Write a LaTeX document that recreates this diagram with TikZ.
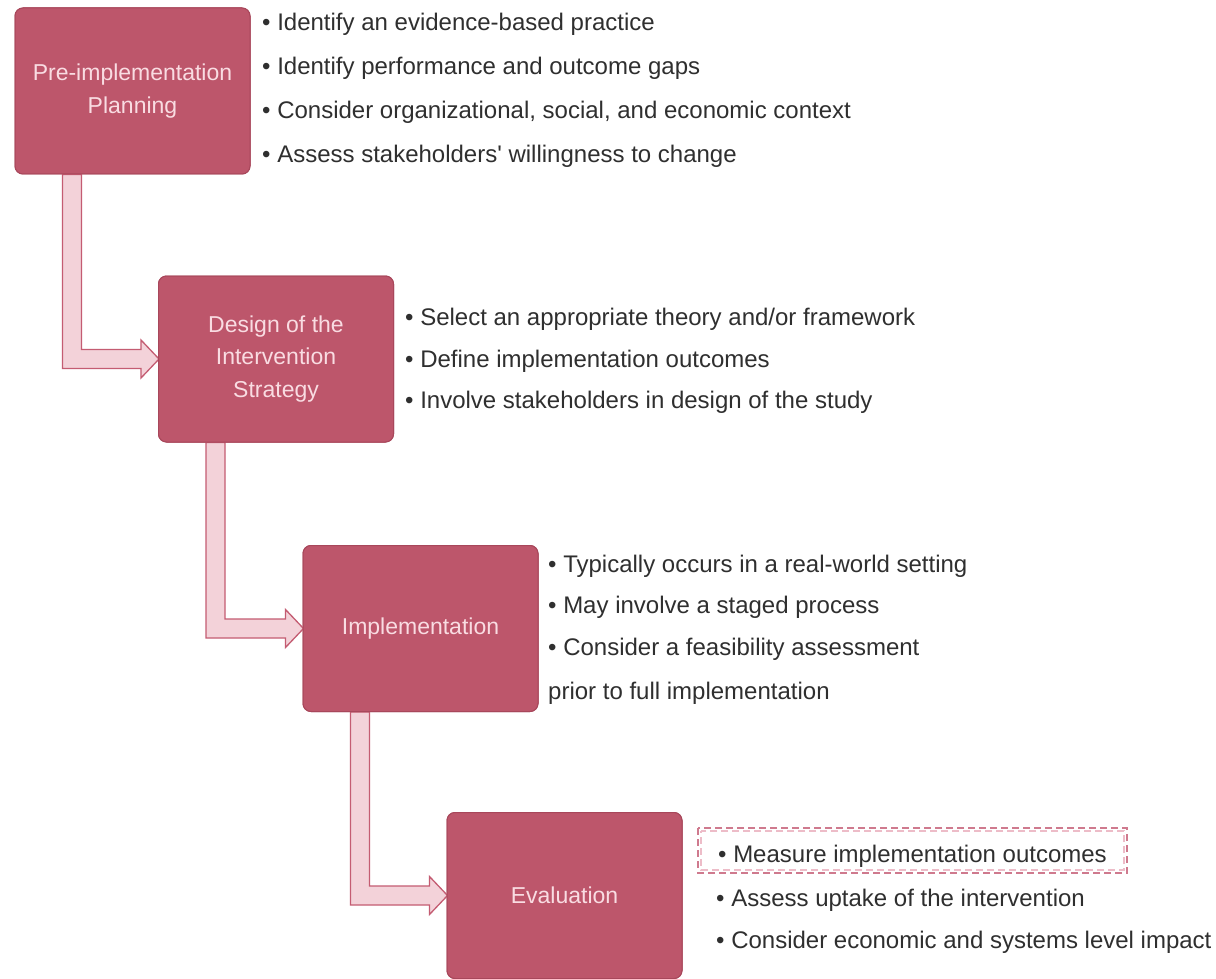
\documentclass[tikz,border=0pt]{standalone}
\usepackage{fontspec}
\setmainfont{Liberation Sans}
\usetikzlibrary{calc}

\definecolor{boxfill}{HTML}{BD566B}
\definecolor{boxline}{HTML}{A8475B}
\definecolor{boxtext}{HTML}{F9DCE2}
\definecolor{arrowfill}{HTML}{F3D2D9}
\definecolor{arrowline}{HTML}{C45C72}
\definecolor{bodytext}{HTML}{2F2F2F}
\definecolor{dashdark}{HTML}{CF7A8E}
\definecolor{dashlight}{HTML}{EDBCC8}

\tikzset{
  stagebox/.style={draw=boxline, line width=1pt, fill=boxfill, rounded corners=8pt,
    minimum width=235pt, minimum height=166pt, inner sep=0pt, align=center,
    text=boxtext, font=\fontsize{23}{32.5}\selectfont},
  itemtext/.style={anchor=base west, inner sep=0pt, text=bodytext,
    font=\fontsize{24}{29}\selectfont},
  arrowbody/.style={draw=arrowline, line width=1.3pt, fill=arrowfill, line join=miter},
}

% L-shaped block arrow from the bottom of one stage to the left side of the next
\newcommand\stagearrow[2]{%
  \draw[arrowbody] let \p1=(#1.south west), \p2=(#2.west) in
    ({\x1+48pt},\y1) -- ({\x1+48pt},{\y2-9.5pt}) -- ({\x2-17pt},{\y2-9.5pt})
    -- ({\x2-17pt},{\y2-19pt}) -- ({\x2+1pt},\y2) -- ({\x2-17pt},{\y2+19pt})
    -- ({\x2-17pt},{\y2+9.5pt}) -- ({\x1+67pt},{\y2+9.5pt}) -- ({\x1+67pt},\y1) -- cycle;}

\begin{document}
\begin{tikzpicture}[x=1pt,y=-1pt]
  \useasboundingbox[fill=white] (0,0) rectangle (1216,979);

  % stage boxes (placed first so the arrows can refer to them)
  \path
    node[stagebox] (plan) at (132.5,91) {Pre-implementation\\Planning}
    node[stagebox] (design) at (276,359) {Design of the\\Intervention\\Strategy}
    node[stagebox] (impl) at (420.5,628.5) {Implementation}
    node[stagebox] (eval) at (564.5,895.5) {Evaluation};

  % connectors between the stages
  \stagearrow{plan}{design}
  \stagearrow{design}{impl}
  \stagearrow{impl}{eval}

  % redraw the boxes on top of the arrow ends
  \node[stagebox] at (plan) {Pre-implementation\\Planning};
  \node[stagebox] at (design) {Design of the\\Intervention\\Strategy};
  \node[stagebox] at (impl) {Implementation};
  \node[stagebox] at (eval) {Evaluation};

  % Pre-implementation planning items
  \node[itemtext] (p1) at (262,31)  {• Identify an evidence-based practice};
  \node[itemtext] (p2) at (262,75)  {• Identify performance and outcome gaps};
  \node[itemtext] (p3) at (262,119) {• Consider organizational, social, and economic context};
  \node[itemtext] (p4) at (262,163) {• Assess stakeholders\textquotesingle\ willingness to change};

  % Design items
  \node[itemtext] (d1) at (405,325) {• Select an appropriate theory and/or framework};
  \node[itemtext] (d2) at (405,367) {• Define implementation outcomes};
  \node[itemtext] (d3) at (405,408) {• Involve stakeholders in design of the study};

  % Implementation items
  \node[itemtext] (i1) at (548,572) {• Typically occurs in a real-world setting};
  \node[itemtext] (i2) at (548,613) {• May involve a staged process};
  \node[itemtext] (i3) at (548,655) {• Consider a feasibility assessment};
  \node[itemtext] (i4) at (548,699) {prior to full implementation};

  % Evaluation items
  \node[itemtext] (e1) at (718,862) {• Measure implementation outcomes};
  \node[itemtext] (e2) at (716,906) {• Assess uptake of the intervention};
  \node[itemtext] (e3) at (716,948) {• Consider economic and systems level impact};

  % dashed highlight frame around the first evaluation item
  \draw[dashdark, line width=1.2pt, dash pattern=on 7pt off 4pt]
    (698,828) rectangle (1127,873);
  \draw[dashlight, line width=1.2pt, dash pattern=on 7pt off 4pt, dash phase=5pt]
    (701,831) rectangle (1124,870);
\end{tikzpicture}
\end{document}
